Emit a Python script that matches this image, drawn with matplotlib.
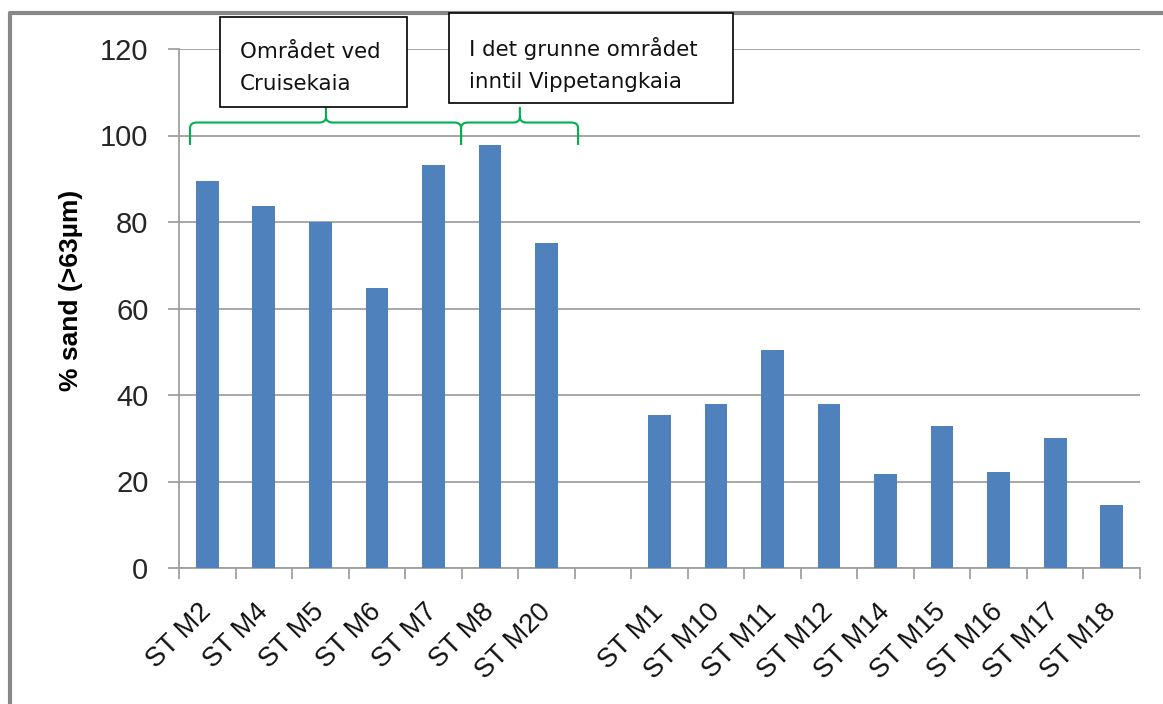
import numpy as np
import matplotlib.pyplot as plt
from matplotlib.path import Path
from matplotlib.patches import PathPatch, Rectangle
from matplotlib.lines import Line2D

# stations (blank slot separates the two groups)
stations = ['ST M2', 'ST M4', 'ST M5', 'ST M6', 'ST M7', 'ST M8', 'ST M20', '',
            'ST M1', 'ST M10', 'ST M11', 'ST M12', 'ST M14', 'ST M15', 'ST M16',
            'ST M17', 'ST M18']
sand = [89.5, 83.7, 80.0, 64.7, 93.2, 97.8, 75.1, np.nan,
        35.4, 37.9, 50.4, 37.9, 21.7, 32.8, 22.2, 30.1, 14.6]
y_ticks = [0, 20, 40, 60, 80, 100, 120]
box_texts = ['Området ved\nCruisekaia', 'I det grunne området\ninntil Vippetangkaia']

W, H = 1163, 704
fig = plt.figure(figsize=(W / 100, H / 100), dpi=100)
ax = fig.add_axes([179 / W, 1 - 568 / H, (1140 - 179) / W, (568 - 49) / H])

grey = '#A0A0A0'
x = np.arange(len(stations))
ax.bar(x, sand, width=0.4, color='#4F81BD', zorder=3)

ax.set_xlim(-0.5, len(stations) - 0.5)
ax.set_ylim(0, 120)
ax.set_yticks(y_ticks)
ax.yaxis.grid(True, color=grey, linewidth=1.3)
ax.set_axisbelow(True)
for s in ['top', 'right']:
    ax.spines[s].set_visible(False)
for s in ['left', 'bottom']:
    ax.spines[s].set_color(grey)
    ax.spines[s].set_linewidth(1.3)

ax.tick_params(axis='y', length=8, width=1.3, color=grey, labelsize=21,
               labelcolor='#262626', pad=14)
for lab in ax.get_yticklabels():
    lab.set_family('Liberation Sans')

ax.set_xticks(x)
ax.set_xticklabels(stations, rotation=45, ha='right', va='center',
                   rotation_mode='anchor', fontsize=19.5,
                   family='Liberation Sans', color='#111111')
ax.tick_params(axis='x', which='major', length=0, pad=29)
ax.set_xticks(np.arange(-0.5, len(stations)), minor=True)
ax.tick_params(axis='x', which='minor', length=8, width=1.3, color=grey)

ax.set_ylabel('% sand (>63µm)', fontsize=19, fontweight='bold',
              family='Liberation Sans')
ax.yaxis.set_label_coords(-0.100, 0.535)


def brace(x0, x1, xp, ybot=97.8, ytop=103.0, ypk=106.6, rx=0.12, ry=1.3):
    verts = [(x0, ybot), (x0, ytop - ry), (x0, ytop), (x0 + rx, ytop),
             (xp - rx, ytop), (xp, ytop), (xp, ytop + ry), (xp, ypk),
             (xp, ytop + ry), (xp, ytop), (xp + rx, ytop),
             (x1 - rx, ytop), (x1, ytop), (x1, ytop - ry), (x1, ybot)]
    codes = [Path.MOVETO, Path.LINETO, Path.CURVE3, Path.CURVE3,
             Path.LINETO, Path.CURVE3, Path.CURVE3, Path.LINETO,
             Path.MOVETO, Path.CURVE3, Path.CURVE3,
             Path.LINETO, Path.CURVE3, Path.CURVE3, Path.LINETO]
    ax.add_patch(PathPatch(Path(verts, codes), fill=False, edgecolor='#00B050',
                           linewidth=1.5, clip_on=False, zorder=5))


brace(-0.305, 4.49, 2.1)
brace(4.49, 6.56, 5.53)

# text boxes (figure pixel positions)
boxes = [(220, 17, 407, 107), (449, 13, 733, 103)]
for (l, t, r, b), txt in zip(boxes, box_texts):
    fig.add_artist(Rectangle((l / W, 1 - b / H), (r - l) / W, (b - t) / H,
                             transform=fig.transFigure, facecolor='white',
                             edgecolor='black', linewidth=1.2, zorder=6))
    fig.text((l + 20) / W, 1 - (t + 51) / H, txt, fontsize=15.4, family='DejaVu Sans',
             va='center', ha='left', linespacing=1.75, zorder=7, color='#111111')

# outer frame (left and top only)
fig.add_artist(Line2D([10 / W, 10 / W, 1], [0, 1 - 13 / H, 1 - 13 / H],
                      transform=fig.transFigure, color='#888888', linewidth=3,
                      zorder=4))

fig.savefig('out.png', dpi=100)
